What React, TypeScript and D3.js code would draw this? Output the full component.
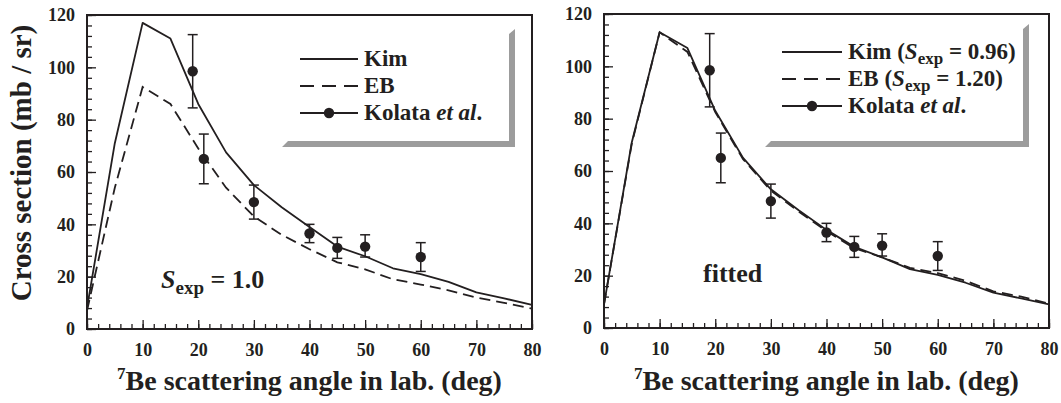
import React, { useEffect, useRef } from "react";
import * as d3 from "d3";

// angles of the calculated curves (deg, lab)
const angles = [0, 5, 10, 15, 20, 25, 30, 35, 40, 45, 50, 55, 60, 65, 70, 75, 80];

// left panel, S_exp = 1.0
const kimLeft = [8, 71, 117, 111, 86, 67.5, 55, 46.5, 39, 31.5, 27.8, 23.2, 21, 18, 14, 11.7, 9.2];
const ebLeft = [7, 54, 92.5, 86, 69, 54, 43, 36, 30.5, 25.5, 22.8, 19, 17, 14.8, 12, 10, 7.8];

// right panel, fitted
const kimRight = [9, 71, 113, 107, 83, 65, 53, 45, 37.5, 31, 27, 22.5, 20.3, 17.3, 13.5, 11.3, 9];
const ebRight = [9, 70.5, 113, 105.5, 82.5, 64.5, 52.5, 44.5, 37, 30.5, 27, 23, 21, 18, 14, 12, 9.3];

// Kolata et al. data
const expAngle = [19, 21, 30, 40, 45, 50, 60];
const expValue = [98.5, 65, 48.5, 36.5, 31, 31.5, 27.5];
const expLow = [84.5, 55.5, 42, 33, 27, 27.5, 22];
const expHigh = [112.5, 74.5, 55, 40, 35, 36, 33];

const xTicks = [0, 10, 20, 30, 40, 50, 60, 70, 80];
const yTicks = [0, 20, 40, 60, 80, 100, 120];

const ink = "#231f20";

function drawPanel(svg, opt) {
  const x = d3.scaleLinear().domain([0, 80]).range([opt.left, opt.left + 445]);
  const y = d3.scaleLinear().domain([0, 120]).range([opt.bottom, opt.bottom - 314]);

  const g = svg.append("g");

  // legend shadow
  const sh = opt.shadow;
  g.append("polygon")
    .attr(
      "points",
      [
        [sh.x1 - 6, sh.top + 5],
        [sh.x1, sh.top],
        [sh.x1, sh.y1],
        [sh.x0, sh.y1],
        [sh.x0 + 6, sh.y1 - 6],
        [sh.x1 - 6, sh.y1 - 6],
      ].join(" ")
    )
    .attr("fill", "#9c9c9c");

  const clean = (a) => a.attr("font-family", null).attr("font-size", null).select(".domain").remove();

  // minor ticks
  g.append("g")
    .attr("transform", `translate(0,${opt.bottom})`)
    .call(d3.axisBottom(x).tickValues(d3.range(0, 81, 2)).tickSize(-5).tickFormat(() => ""))
    .call(clean);
  g.append("g")
    .attr("transform", `translate(${opt.left},0)`)
    .call(d3.axisLeft(y).tickValues(d3.range(0, 121, 4)).tickSize(-5).tickFormat(() => ""))
    .call(clean);

  // major ticks + labels
  g.append("g")
    .attr("transform", `translate(0,${opt.bottom})`)
    .call(d3.axisBottom(x).tickValues(xTicks).tickSize(-9).tickPadding(14))
    .call(clean);
  g.append("g")
    .attr("transform", `translate(${opt.left},0)`)
    .call(d3.axisLeft(y).tickValues(yTicks).tickSize(-9).tickPadding(12))
    .call(clean);

  g.selectAll(".tick line").attr("stroke", ink).attr("stroke-width", 1.3);
  g.selectAll(".tick text").attr("fill", ink).style("font-size", "18px");

  // frame
  g.append("rect")
    .attr("x", x(0))
    .attr("y", y(120))
    .attr("width", x(80) - x(0))
    .attr("height", y(0) - y(120))
    .attr("fill", "none")
    .attr("stroke", ink)
    .attr("stroke-width", 2);

  const line = d3
    .line()
    .x((d, i) => x(angles[i]))
    .y((d) => y(d));

  g.append("path")
    .attr("d", line(opt.kim))
    .attr("fill", "none")
    .attr("stroke", ink)
    .attr("stroke-width", 1.8)
    .attr("stroke-linejoin", "round");
  g.append("path")
    .attr("d", line(opt.eb))
    .attr("fill", "none")
    .attr("stroke", ink)
    .attr("stroke-width", 1.8)
    .attr("stroke-dasharray", "11,6");

  // data with error bars
  const pts = g.append("g").selectAll("g").data(expAngle).join("g");
  pts.append("line")
    .attr("x1", (d) => x(d))
    .attr("x2", (d) => x(d))
    .attr("y1", (d, i) => y(expLow[i]))
    .attr("y2", (d, i) => y(expHigh[i]))
    .attr("stroke", ink)
    .attr("stroke-width", 1.5);
  [expLow, expHigh].forEach((arr) => {
    pts.append("line")
      .attr("x1", (d) => x(d) - 5)
      .attr("x2", (d) => x(d) + 5)
      .attr("y1", (d, i) => y(arr[i]))
      .attr("y2", (d, i) => y(arr[i]))
      .attr("stroke", ink)
      .attr("stroke-width", 1.5);
  });
  pts.append("circle")
    .attr("cx", (d) => x(d))
    .attr("cy", (d, i) => y(expValue[i]))
    .attr("r", 5.2)
    .attr("fill", ink);

  // legend
  const lg = opt.legend;
  lg.rows.forEach((r, i) => {
    const by = lg.y + i * lg.step;
    const ly = by - 7;
    g.append("line")
      .attr("x1", lg.x)
      .attr("x2", lg.x + lg.len)
      .attr("y1", ly)
      .attr("y2", ly)
      .attr("stroke", ink)
      .attr("stroke-width", 1.8)
      .attr("stroke-dasharray", r.dash ? "14,8" : null);
    if (r.dot) {
      g.append("circle")
        .attr("cx", lg.x + lg.len / 2)
        .attr("cy", ly)
        .attr("r", 5.2)
        .attr("fill", ink);
    }
    const t = g.append("text")
      .attr("x", lg.x + lg.len + 6)
      .attr("y", by)
      .style("font-size", lg.size + "px")
      .attr("fill", ink);
    r.parts.forEach((p) => {
      const s = t.append("tspan").text(p.t);
      if (p.it) s.style("font-style", "italic");
      if (p.sub) s.style("font-size", Math.round(lg.size * 0.72) + "px").attr("dy", 5);
      if (p.up) s.attr("dy", -5);
    });
  });

  // annotation
  const note = g.append("text")
    .attr("x", opt.note.x)
    .attr("y", opt.note.y)
    .style("font-size", "26px")
    .attr("fill", ink);
  opt.note.parts.forEach((p) => {
    const s = note.append("tspan").text(p.t);
    if (p.it) s.style("font-style", "italic");
    if (p.sub) s.style("font-size", "19px").attr("dy", 6);
    if (p.up) s.attr("dy", -6);
  });

  // x title
  const xt = g.append("text")
    .attr("x", (x(0) + x(80)) / 2)
    .attr("y", 390)
    .attr("text-anchor", "middle")
    .style("font-size", "28px")
    .attr("fill", ink);
  xt.append("tspan").style("font-size", "17px").attr("dy", -11).text("7");
  xt.append("tspan").attr("dy", 11).text("Be scattering angle in lab. (deg)");
}

function App() {
  const ref = useRef(null);

  useEffect(() => {
    const svg = d3.select(ref.current);
    svg.selectAll("*").remove();

    svg.append("text")
      .attr("transform", "translate(31,163) rotate(-90)")
      .attr("text-anchor", "middle")
      .style("font-size", "29px")
      .attr("fill", ink)
      .text("Cross section (mb / sr)");

    drawPanel(svg, {
      left: 87,
      bottom: 329,
      kim: kimLeft,
      eb: ebLeft,
      shadow: { x0: 282, x1: 515, top: 29, y1: 147 },
      legend: {
        x: 300,
        len: 58,
        y: 66,
        step: 27,
        size: 23,
        rows: [
          { parts: [{ t: "Kim" }] },
          { dash: true, parts: [{ t: "EB" }] },
          { dot: true, parts: [{ t: "Kolata " }, { t: "et al", it: true }, { t: "." }] },
        ],
      },
      note: {
        x: 161,
        y: 288,
        parts: [{ t: "S", it: true }, { t: "exp", sub: true }, { t: " = 1.0", up: true }],
      },
    });

    drawPanel(svg, {
      left: 604,
      bottom: 328,
      kim: kimRight,
      eb: ebRight,
      shadow: { x0: 765, x1: 1029, top: 24, y1: 147 },
      legend: {
        x: 782,
        len: 60,
        y: 59,
        step: 27,
        size: 23,
        rows: [
          { parts: [{ t: "Kim (" }, { t: "S", it: true }, { t: "exp", sub: true }, { t: " = 0.96)", up: true }] },
          { dash: true, parts: [{ t: "EB (" }, { t: "S", it: true }, { t: "exp", sub: true }, { t: " = 1.20)", up: true }] },
          { dot: true, parts: [{ t: "Kolata " }, { t: "et al", it: true }, { t: "." }] },
        ],
      },
      note: { x: 703, y: 282, parts: [{ t: "fitted" }] },
    });
  }, []);

  return (
    <svg
      ref={ref}
      width={1061}
      height={403}
      style={{
        position: "absolute",
        left: 0,
        top: 0,
        background: "#fff",
        fontFamily: "Liberation Serif",
        fontWeight: "bold",
      }}
    />
  );
}

export default App;
